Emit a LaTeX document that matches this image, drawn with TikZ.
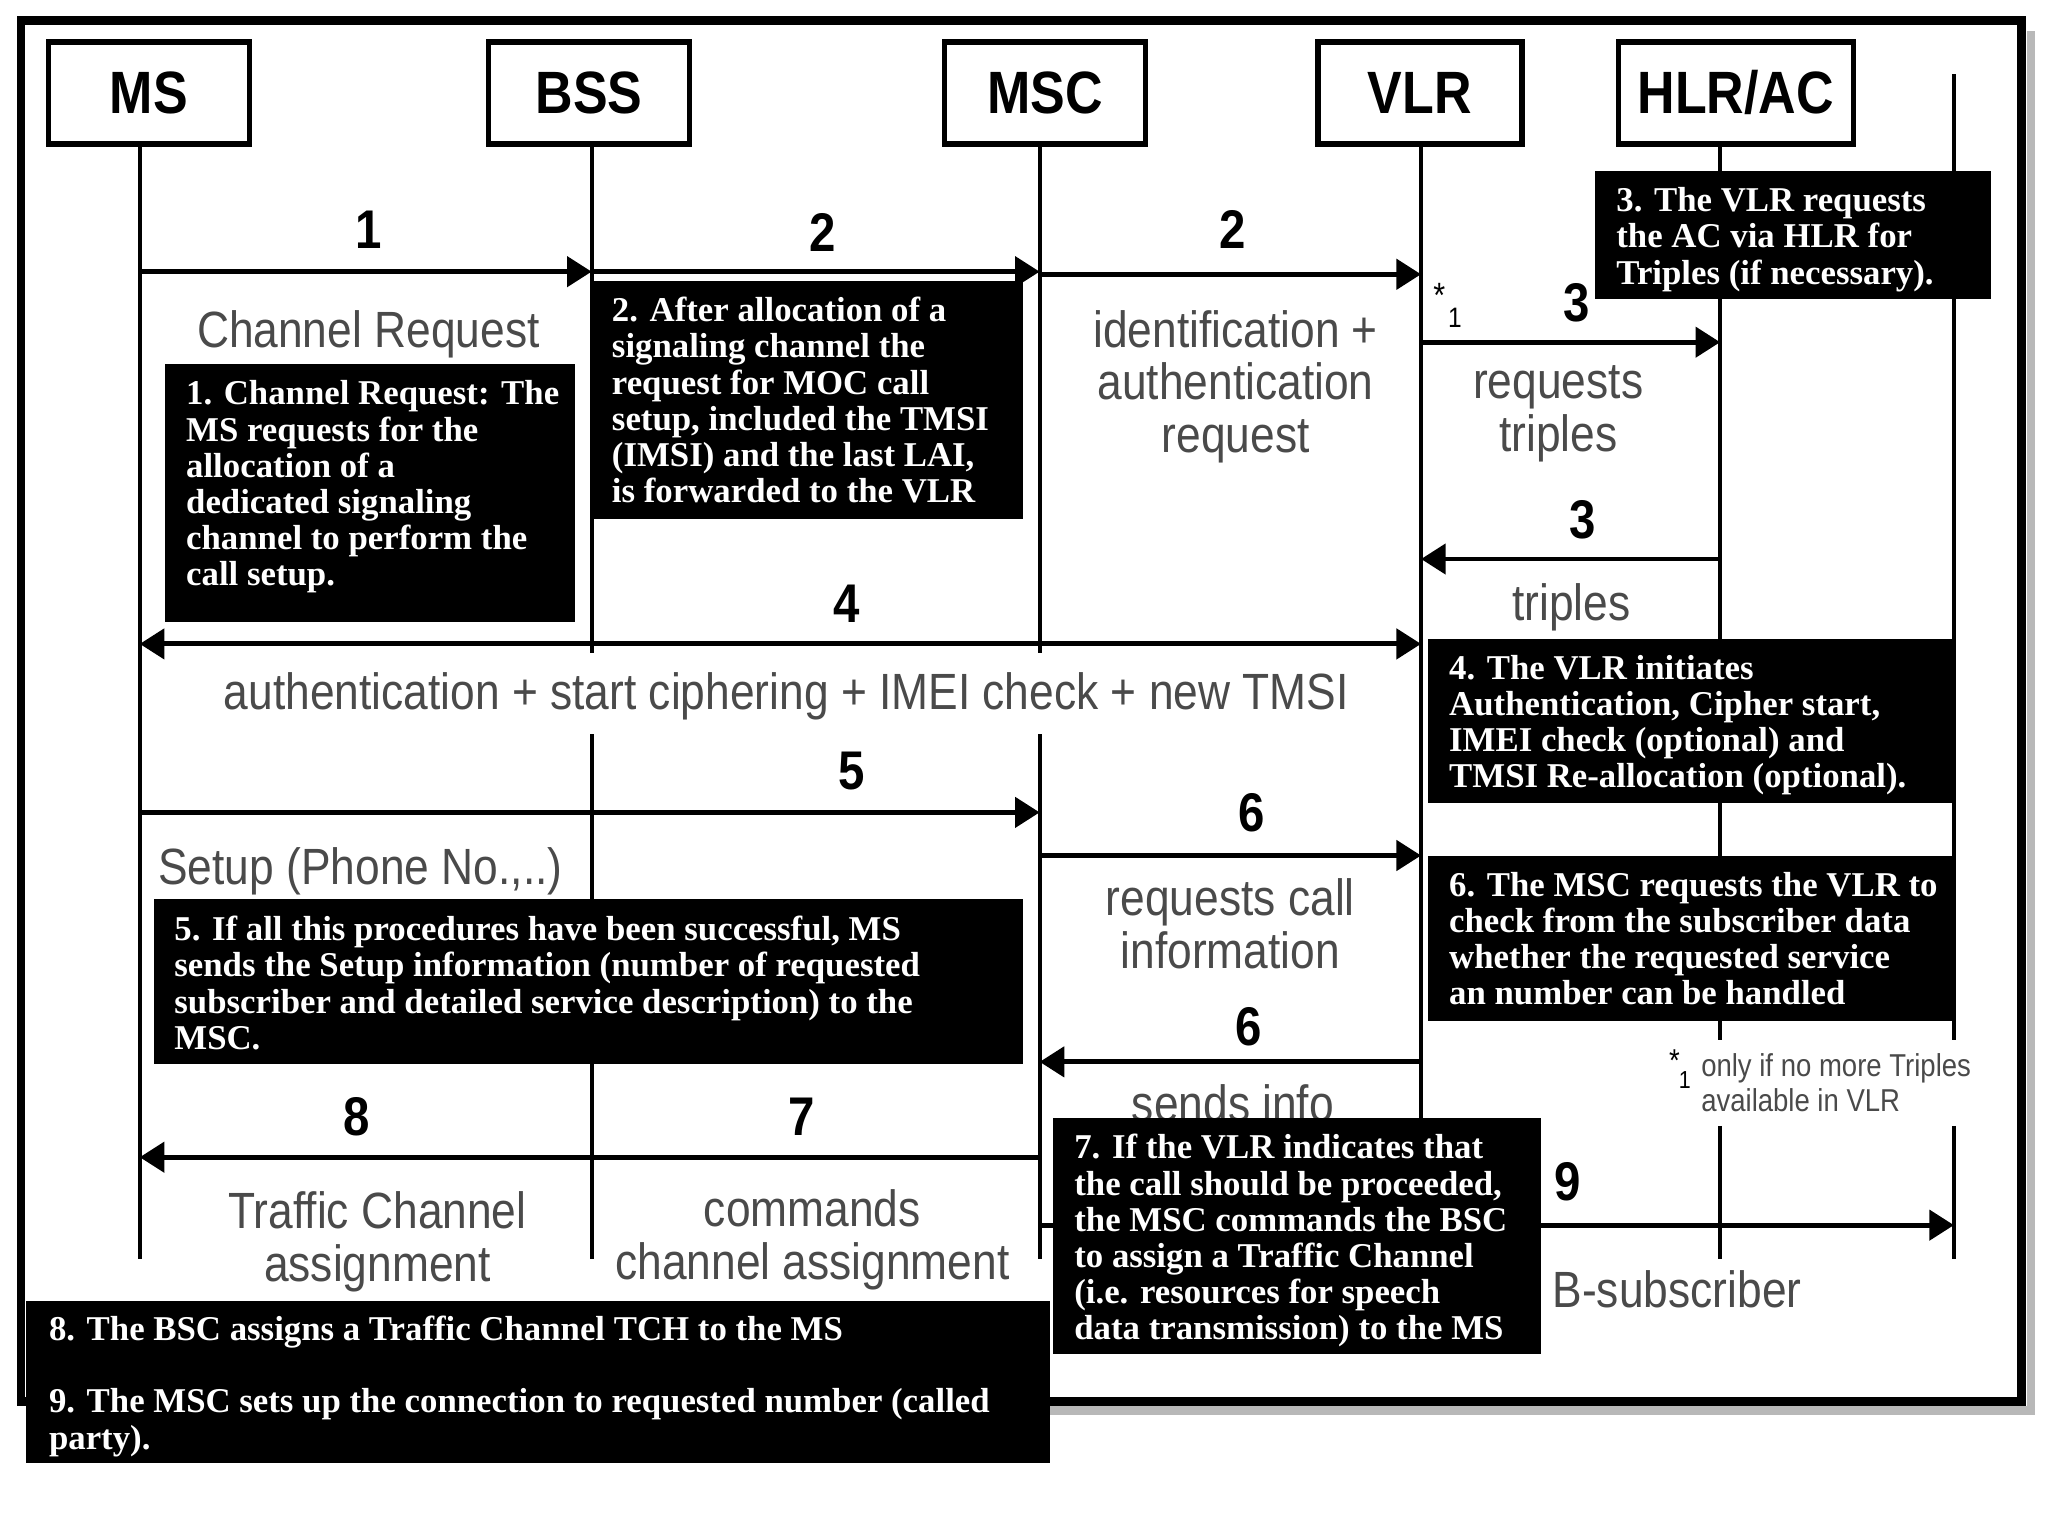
\documentclass[tikz,border=0pt]{standalone}
\usepackage{fontspec}
\setmainfont{Liberation Serif}
\newfontfamily\diagsans[FakeStretch=0.87]{Liberation Sans}
\usetikzlibrary{arrows.meta}
\definecolor{MsgGray}{HTML}{4A4A4A}
\definecolor{ShadeGray}{HTML}{B8B8B8}

\begin{document}
\begin{tikzpicture}[x=0.013061cm, y=-0.013061cm,
  every node/.style={inner sep=0pt},
  entity/.style={draw, line width=1.6pt, minimum height=1.02cm,
    font=\diagsans\fontsize{17}{17}\selectfont\bfseries},
  lifeline/.style={line width=1.2pt},
  msg/.style={line width=1.4pt, -{Triangle[length=7pt,width=8.5pt]}},
  stepnum/.style={font=\diagsans\fontsize{15.5}{15.5}\selectfont\bfseries},
  msglabel/.style={font=\diagsans\fontsize{14.5}{15}\selectfont, text=MsgGray, align=center},
  notebox/.style={fill=black},
  notetext/.style={anchor=north west, align=left, text=white,
    font=\fontsize{9.9}{10.3}\selectfont\bfseries}]

  \useasboundingbox (0,0) rectangle (1568,1176);
  \fill[white] (0,0) rectangle (1568,1176);

  % outer frame with its shadow
  \draw[ShadeGray, line width=2.5pt] (1555,24) -- (1555,1080) -- (24,1080);
  \draw[line width=2.5pt] (16,16) rectangle (1548,1073);

  % entities
  \node[entity, minimum width=2.01cm] (MS)  at (114,71)  {MS};
  \node[entity, minimum width=2.01cm] (BSS) at (451,71)  {BSS};
  \node[entity, minimum width=2.01cm] (MSC) at (800,71)  {MSC};
  \node[entity, minimum width=2.04cm] (VLR) at (1087,71) {VLR};
  \node[entity, minimum width=2.35cm] (HLR) at (1329,71) {HLR/AC};

  % lifelines
  \coordinate (ms)   at (107,110);
  \coordinate (bss)  at (453,110);
  \coordinate (msc)  at (796,110);
  \coordinate (vlr)  at (1088,110);
  \coordinate (hlr)  at (1317,110);
  \coordinate (bsub) at (1496,57);
  \coordinate (gapA) at (0,500);
  \coordinate (gapB) at (0,562);
  \coordinate (gapC) at (0,796);
  \coordinate (gapD) at (0,862);
  \coordinate (foot) at (0,964);

  \draw[lifeline] (ms) -- (ms |- foot);
  \draw[lifeline] (bss) -- (bss |- gapA) (bss |- gapB) -- (bss |- foot);
  \draw[lifeline] (msc) -- (msc |- gapA) (msc |- gapB) -- (msc |- foot);
  \draw[lifeline] (vlr) -- (vlr |- foot);
  \draw[lifeline] (hlr) -- (hlr |- gapC) (hlr |- gapD) -- (hlr |- foot);
  \draw[lifeline] (bsub) -- (bsub |- gapC) (bsub |- gapD) -- (bsub |- foot);

  % message rows
  \coordinate (r1)  at (0,208);
  \coordinate (r2)  at (0,210);
  \coordinate (r3)  at (0,262);
  \coordinate (r3b) at (0,428);
  \coordinate (r4)  at (0,493);
  \coordinate (r5)  at (0,622);
  \coordinate (r6)  at (0,655);
  \coordinate (r6b) at (0,813);
  \coordinate (r7)  at (0,886);
  \coordinate (r9)  at (0,938);

  \draw[msg] (ms |- r1) -- (bss |- r1);
  \draw[msg] (bss |- r1) -- (msc |- r1);
  \draw[msg] (msc |- r2) -- (vlr |- r2);
  \draw[msg] (vlr |- r3) -- (hlr |- r3);
  \draw[msg] (hlr |- r3b) -- (vlr |- r3b);
  \draw[msg, {Triangle[length=7pt,width=8.5pt]}-{Triangle[length=7pt,width=8.5pt]}] (ms |- r4) -- (vlr |- r4);
  \draw[msg] (ms |- r5) -- (msc |- r5);
  \draw[msg] (msc |- r6) -- (vlr |- r6);
  \draw[msg] (vlr |- r6b) -- (msc |- r6b);
  \draw[line width=1.4pt] (msc |- r7) -- (bss |- r7);
  \draw[msg] (bss |- r7) -- (ms |- r7);
  \draw[msg] (msc |- r9) -- (bsub |- r9);

  % step numbers
  \node[stepnum] (n1)  at (282,176)  {1};
  \node[stepnum] (n2a) at (630,178)  {2};
  \node[stepnum] (n2b) at (944,176)  {2};
  \node[stepnum] (n3a) at (1207,232) {3};
  \node[stepnum] (n3b) at (1212,398) {3};
  \node[stepnum] (n4)  at (648,462)  {4};
  \node[stepnum] (n5)  at (652,590)  {5};
  \node[stepnum] (n6a) at (958,622)  {6};
  \node[stepnum] (n6b) at (956,786)  {6};
  \node[stepnum] (n8)  at (273,855)  {8};
  \node[stepnum] (n7)  at (614,855)  {7};
  \node[stepnum] (n9)  at (1200,905) {9};

  \node[font=\diagsans\fontsize{10}{10}\selectfont] (star1) at (1102,226) {*};
  \node[font=\diagsans\fontsize{8}{8}\selectfont] (sub1) at (1114,243) {1};

  % message labels
  \node[msglabel] (l1)  at (282,256)  {Channel Request};
  \node[msglabel] (l2)  at (946,296)  {identification +\\authentication\\request};
  \node[msglabel] (l3a) at (1193,317) {requests\\triples};
  \node[msglabel] (l3b) at (1203,465) {triples};
  \node[msglabel] (l4)  at (602,533)  {authentication + start ciphering + IMEI check + new TMSI};
  \node[msglabel] (l5)  at (276,667)  {Setup (Phone No.,..)};
  \node[msglabel] (l6a) at (942,707)  {requests call\\information};
  \node[msglabel] (l6b) at (944,845)  {sends info};
  \node[msglabel] (l7)  at (622,949)  {commands\\channel assignment};
  \node[msglabel] (l8)  at (289,951)  {Traffic Channel\\assignment};
  \node[msglabel] (l9)  at (1284,987) {B-subscriber};

  % footnote
  \node[font=\diagsans\fontsize{9}{9}\selectfont] (star2) at (1282,812) {*};
  \node[font=\diagsans\fontsize{7}{7}\selectfont] (sub2) at (1290,827) {1};
  \node[anchor=north west, align=left, font=\diagsans\fontsize{9}{10}\selectfont, text=MsgGray]
    (fn) at (1302,806) {only if no more Triples\\available in VLR};

  % explanation boxes
  \path[notebox] (126,279) rectangle (440,476);
  \node[notetext] (note1) at (142,291) {1. Channel Request: The\\MS requests for the\\allocation of a\\dedicated signaling\\channel to perform the\\call setup.};

  \path[notebox] (455,215) rectangle (783,397);
  \node[notetext] (note2) at (468,227) {2. After allocation of a\\signaling channel the\\request for MOC call\\setup, included the TMSI\\(IMSI) and the last LAI,\\is forwarded to the VLR};

  \path[notebox] (1221,131) rectangle (1524,229);
  \node[notetext] (note3) at (1237,143) {3. The VLR requests\\the AC via HLR for\\Triples (if necessary).};

  \path[notebox] (1093,489) rectangle (1497,615);
  \node[notetext] (note4) at (1109,501) {4. The VLR initiates\\Authentication, Cipher start,\\IMEI check (optional) and\\TMSI Re-allocation (optional).};

  \path[notebox] (1093,655) rectangle (1497,782);
  \node[notetext] (note6) at (1109,667) {6. The MSC requests the VLR to\\check from the subscriber data\\whether the requested service\\an number can be handled};

  \path[notebox] (118,688) rectangle (783,815);
  \node[notetext] (note5) at (133,701) {5. If all this procedures have been successful, MS\\sends the Setup information (number of requested\\subscriber and detailed service description) to the\\MSC.};

  \path[notebox] (806,856) rectangle (1180,1037);
  \node[notetext] (note7) at (822,868) {7. If the VLR indicates that\\the call should be proceeded,\\the MSC commands the BSC\\to assign a Traffic Channel\\(i.e. resources for speech\\data transmission) to the MS};

  \path[notebox] (20,996) rectangle (804,1120);
  \node[notetext] (note89) at (37,1007) {8. The BSC assigns a Traffic Channel TCH to the MS\\[10.3pt]9. The MSC sets up the connection to requested number (called\\party).};
\end{tikzpicture}
\end{document}
